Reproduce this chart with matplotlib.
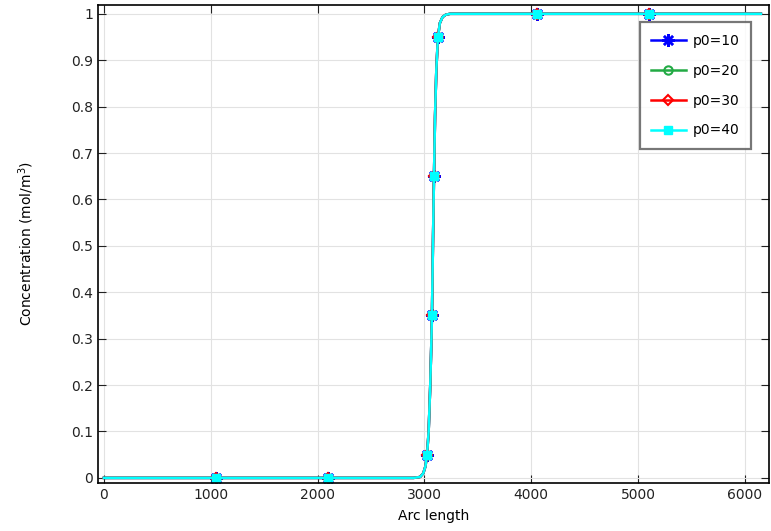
import matplotlib
matplotlib.use("Agg")
import matplotlib.pyplot as plt
import numpy as np

# Data
arc_length = [0, 1050, 2100, 2900, 2960, 2990, 3010, 3025, 3040, 3055, 3065, 3071,
              3080, 3090, 3100, 3112, 3127, 3145, 3170, 3200, 3240, 3280, 4050, 5100, 6150]
conc_p10 = [0, 0, 0, 0, 0.002, 0.01, 0.025, 0.05, 0.10, 0.20, 0.29, 0.35,
            0.50, 0.65, 0.78, 0.88, 0.95, 0.98, 0.993, 0.998, 1.0, 1.0, 1.0, 1.0, 1.0]
conc_p20 = list(conc_p10)
conc_p30 = list(conc_p10)
conc_p40 = list(conc_p10)
marker_idx = [1, 2, 7, 11, 13, 16, 22, 23]

series = [
    ("p0=10", conc_p10, "#0000ff", dict(marker=(8, 2, 0), markersize=9, markeredgewidth=1.8)),
    ("p0=20", conc_p20, "#22aa44", dict(marker="o", markersize=6, markerfacecolor="none", markeredgewidth=1.5)),
    ("p0=30", conc_p30, "#ff0000", dict(marker="D", markersize=5, markerfacecolor="none", markeredgewidth=1.5)),
    ("p0=40", conc_p40, "#00ffff", dict(marker="s", markersize=5.5)),
]

fig = plt.figure(figsize=(7.71, 5.31), dpi=100)
ax = fig.add_axes([0.127, 0.0904, 0.9974 - 0.127, 0.9906 - 0.0904])

for label, y, color, mk in series:
    ax.plot(arc_length, y, color=color, lw=1.8, markevery=marker_idx, label=label, **mk)

ax.set_xlim(-56, 6226)
ax.set_ylim(-0.011, 1.019)
ax.set_xticks([0, 1000, 2000, 3000, 4000, 5000, 6000])
ax.set_yticks([0, 0.1, 0.2, 0.3, 0.4, 0.5, 0.6, 0.7, 0.8, 0.9, 1])
ax.set_yticklabels(["0", "0.1", "0.2", "0.3", "0.4", "0.5", "0.6", "0.7", "0.8", "0.9", "1"])
ax.grid(True, color="#e2e2e2", lw=0.8)
ax.set_axisbelow(True)
ax.tick_params(direction="in", top=True, right=True, length=6, labelsize=10, colors="#222222")
for s in ax.spines.values():
    s.set_color("black")
    s.set_linewidth(1.2)

ax.set_xlabel("Arc length", fontsize=10, labelpad=5)
ax.set_ylabel("Concentration (mol/m$^3$)", fontsize=10, labelpad=25)

leg = ax.legend(loc="upper right", bbox_to_anchor=(0.983, 0.978), fontsize=10, frameon=True,
                fancybox=False, shadow=False, handlelength=2.5, handletextpad=0.5,
                borderpad=0.8, labelspacing=1.15)
leg.get_frame().set_edgecolor("#555555")
leg.get_frame().set_linewidth(1.6)

fig.savefig("out.png", dpi=100)
